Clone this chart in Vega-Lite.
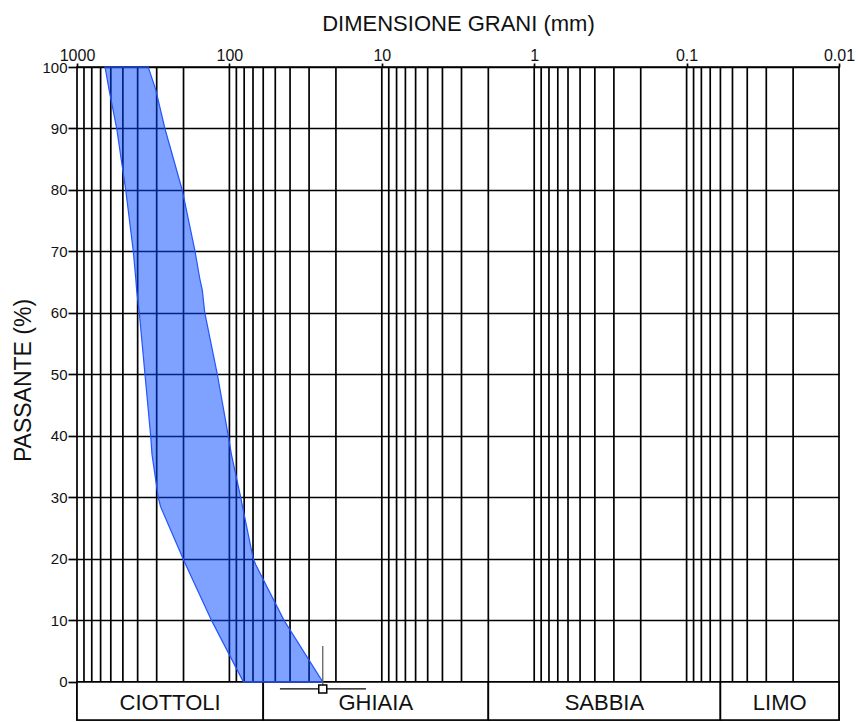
{
  "$schema": "https://vega.github.io/schema/vega-lite/v6.json",
  "width": 762,
  "height": 653,
  "autosize": {"type": "none"},
  "padding": {"left": 77, "top": 67, "right": 19, "bottom": 2},
  "background": "white",
  "config": {
    "view": {"stroke": "black", "strokeWidth": 1.7},
    "font": "Liberation Sans"
  },
  "datasets": {
    "grid": [
      {"d": 900}, {"d": 800}, {"d": 700}, {"d": 600}, {"d": 500}, {"d": 400}, {"d": 300}, {"d": 200}, {"d": 100},
      {"d": 90}, {"d": 80}, {"d": 70}, {"d": 60}, {"d": 50}, {"d": 40}, {"d": 30}, {"d": 20}, {"d": 10},
      {"d": 9}, {"d": 8}, {"d": 7}, {"d": 6}, {"d": 5}, {"d": 4}, {"d": 3}, {"d": 2}, {"d": 1},
      {"d": 0.9}, {"d": 0.8}, {"d": 0.7}, {"d": 0.6}, {"d": 0.5}, {"d": 0.4}, {"d": 0.3}, {"d": 0.2}, {"d": 0.1},
      {"d": 0.09}, {"d": 0.08}, {"d": 0.07}, {"d": 0.06}, {"d": 0.05}, {"d": 0.04}, {"d": 0.03}, {"d": 0.02}
    ],
    "classes": [
      {"cls": "CIOTTOLI", "d1": 1000, "d2": 60},
      {"cls": "GHIAIA", "d1": 60, "d2": 2},
      {"cls": "SABBIA", "d1": 2, "d2": 0.06},
      {"cls": "LIMO", "d1": 0.06, "d2": 0.01}
    ],
    "fuso": [
      {"p": 100, "dmax": 655, "dmin": 341},
      {"p": 96.4, "dmax": 617, "dmin": 305},
      {"p": 90, "dmax": 549, "dmin": 265},
      {"p": 80, "dmax": 479, "dmin": 204},
      {"p": 70, "dmax": 427, "dmin": 168},
      {"p": 65.4, "dmax": 411, "dmin": 156},
      {"p": 63.7, "dmax": 406, "dmin": 150.6},
      {"p": 60, "dmax": 390, "dmin": 145},
      {"p": 50, "dmax": 358, "dmin": 120},
      {"p": 40, "dmax": 328.5, "dmin": 101.7},
      {"p": 37, "dmax": 322, "dmin": 97},
      {"p": 30, "dmax": 293, "dmin": 84.3},
      {"p": 28.5, "dmax": 283, "dmin": 82},
      {"p": 20, "dmax": 201, "dmin": 69.7},
      {"p": 19, "dmax": 193, "dmin": 67},
      {"p": 10, "dmax": 131, "dmin": 43.8},
      {"p": 0, "dmax": 81, "dmin": 24.4}
    ],
    "marker": [
      {"d": 24.4, "p": -1.14, "ptop": 5.85, "dlo": 46.6, "dhi": 12.7}
    ]
  },
  "layer": [
    {
      "data": {"name": "grid"},
      "mark": {"type": "rule", "color": "black", "strokeWidth": 1.7},
      "encoding": {
        "x": {"field": "d", "type": "quantitative",
              "scale": {"type": "log", "domain": [0.01, 1000], "reverse": true},
              "axis": {
                "orient": "top",
                "values": [1000, 100, 10, 1, 0.1, 0.01],
                "format": "~g",
                "grid": false,
                "domain": false,
                "tickSize": 4,
                "tickWidth": 1.7,
                "tickColor": "black",
                "labelFlush": false,
                "labelFontSize": 16,
                "labelPadding": 0,
                "labelColor": "#111",
                "title": "DIMENSIONE GRANI (mm)",
                "titleFontSize": 22,
                "titleFontWeight": "normal",
                "titleColor": "#111",
                "titleBaseline": "alphabetic",
                "titleY": -37
              }},
        "y": {"datum": 0, "type": "quantitative",
              "scale": {"domain": [-6.2, 100], "nice": false, "zero": false},
              "axis": {
                "values": [0, 10, 20, 30, 40, 50, 60, 70, 80, 90, 100],
                "grid": true,
                "gridColor": "black",
                "gridWidth": 1.7,
                "gridOpacity": 1,
                "domain": false,
                "tickSize": 9,
                "tickWidth": 1.7,
                "tickColor": "black",
                "labelFontSize": 15,
                "labelPadding": 1,
                "labelColor": "#111",
                "title": "PASSANTE (%)",
                "titleFontSize": 23,
                "titleFontWeight": "normal",
                "titleColor": "#111",
                "titleAngle": -90,
                "titleBaseline": "alphabetic",
                "titleX": -47,
                "titleY": 313
              }},
        "y2": {"datum": 100}
      }
    },
    {
      "data": {"name": "classes"},
      "mark": {"type": "rect", "fill": "white", "stroke": "black", "strokeWidth": 1.7},
      "encoding": {
        "x": {"field": "d1", "type": "quantitative"},
        "x2": {"field": "d2"},
        "y": {"datum": 0},
        "y2": {"datum": -6.2}
      }
    },
    {
      "data": {"name": "classes"},
      "transform": [{"calculate": "sqrt(datum.d1 * datum.d2)", "as": "dm"}],
      "mark": {"type": "text", "fontSize": 22, "baseline": "middle", "align": "center", "color": "#111"},
      "encoding": {
        "x": {"field": "dm", "type": "quantitative"},
        "y": {"datum": -3.4},
        "text": {"field": "cls"}
      }
    },
    {
      "data": {"name": "fuso"},
      "mark": {"type": "area", "orient": "horizontal", "fill": "#0044ff", "fillOpacity": 0.5,
               "stroke": "#2255ff", "strokeWidth": 1.2},
      "encoding": {
        "y": {"field": "p", "type": "quantitative"},
        "x": {"field": "dmax", "type": "quantitative"},
        "x2": {"field": "dmin"}
      }
    },
    {
      "data": {"name": "marker"},
      "mark": {"type": "rule", "color": "#555", "strokeWidth": 1.2},
      "encoding": {
        "x": {"field": "d", "type": "quantitative"},
        "y": {"field": "p", "type": "quantitative"},
        "y2": {"field": "ptop"}
      }
    },
    {
      "data": {"name": "marker"},
      "mark": {"type": "rule", "color": "black", "strokeWidth": 1.3},
      "encoding": {
        "x": {"field": "dlo", "type": "quantitative"},
        "x2": {"field": "dhi"},
        "y": {"field": "p", "type": "quantitative"}
      }
    },
    {
      "data": {"name": "marker"},
      "mark": {"type": "point", "shape": "square", "size": 64, "filled": true, "fill": "white",
               "stroke": "black", "strokeWidth": 1.5, "opacity": 1},
      "encoding": {
        "x": {"field": "d", "type": "quantitative"},
        "y": {"field": "p", "type": "quantitative"}
      }
    }
  ]
}
